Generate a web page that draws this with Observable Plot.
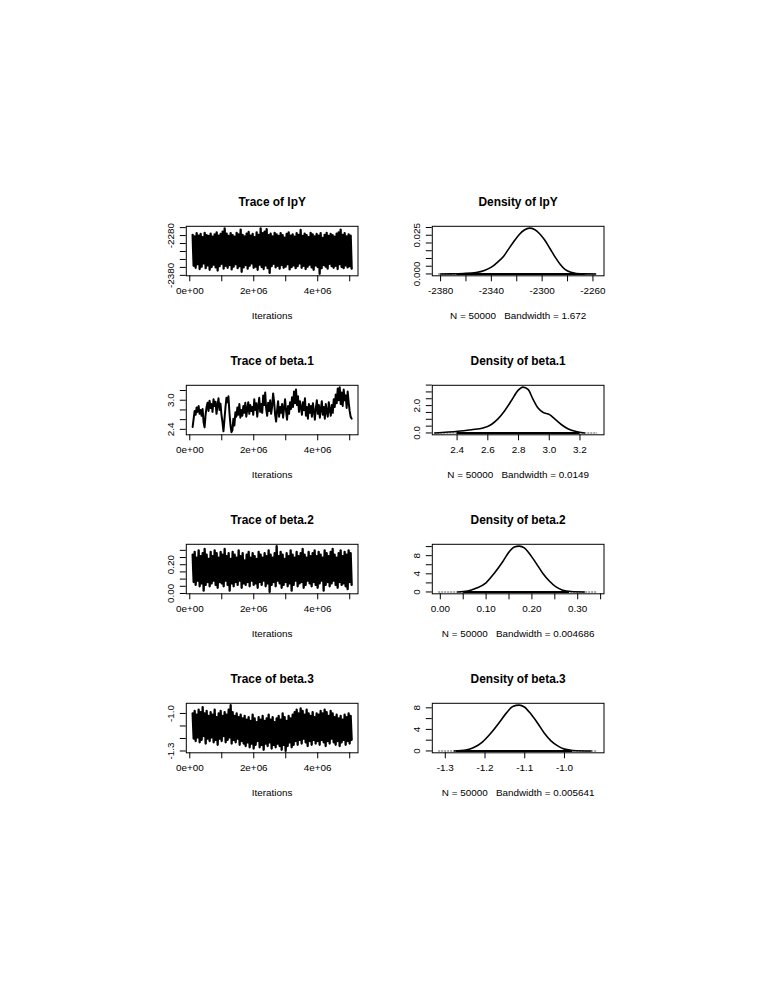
<!DOCTYPE html>
<html><head><meta charset="utf-8">
<script src="https://cdn.jsdelivr.net/npm/d3@7"></script>
<script src="https://cdn.jsdelivr.net/npm/@observablehq/plot@0.6"></script>
<style>
html,body{margin:0;padding:0;background:#fff;}
#page{position:relative;width:765px;height:990px;background:#fff;overflow:hidden;}
#page svg{position:absolute;}
#page svg text{white-space:pre;}
</style></head>
<body><div id="page"></div>
<script>
// ---------------- data ----------------
const traceIter = [90000, 5060000];               // first / last iteration
const traceXTicks = [0, 1e6, 2e6, 3e6, 4e6, 5e6];
const traceXLabelAt = [0, 2e6, 4e6];
const traceXLabelText = ["0e+00", "2e+06", "4e+06"];

// lpY trace: upper / lower envelope of the (dense) chain
const lpYUpper = [-2278,-2282,-2274,-2280,-2276,-2284,-2273,-2279,-2281,-2275,
-2283,-2277,-2272,-2280,-2276,-2270,-2262,-2275,-2281,-2274,
-2279,-2283,-2273,-2277,-2265,-2278,-2282,-2275,-2271,-2280,
-2276,-2284,-2272,-2278,-2262,-2274,-2270,-2264,-2279,-2275,
-2282,-2273,-2277,-2281,-2274,-2279,-2285,-2276,-2272,-2280,
-2277,-2283,-2274,-2278,-2266,-2281,-2275,-2279,-2284,-2273,
-2277,-2282,-2276,-2280,-2274,-2286,-2278,-2273,-2281,-2276,
-2279,-2283,-2275,-2272,-2265,-2278,-2274,-2282,-2277,-2280];
const lpYLower = [-2356,-2361,-2352,-2364,-2358,-2350,-2362,-2355,-2366,-2359,
-2353,-2360,-2368,-2357,-2351,-2363,-2356,-2361,-2354,-2365,
-2358,-2352,-2362,-2357,-2371,-2360,-2354,-2363,-2356,-2350,
-2361,-2358,-2366,-2353,-2359,-2364,-2355,-2362,-2374,-2357,
-2351,-2360,-2356,-2363,-2354,-2361,-2358,-2352,-2365,-2359,
-2355,-2362,-2357,-2350,-2361,-2356,-2364,-2358,-2353,-2360,
-2366,-2355,-2359,-2376,-2362,-2354,-2358,-2363,-2351,-2357,
-2361,-2356,-2364,-2352,-2359,-2362,-2355,-2360,-2357,-2363];
const lpYDataRange = [-2376.5, -2261.3];
const lpYTraceYTicks = [-2380, -2360, -2340, -2320, -2300, -2280, -2260];
const lpYTraceYLabelAt = [-2380, -2280];
const lpYTraceYLabelText = ["-2380", "-2280"];
const lpYDensX = [-2380,-2372,-2362,-2352,-2345,-2340,-2335,-2330,-2327,-2322,-2318,-2314,-2310,-2306,-2302,-2298,-2294,-2290,-2286,-2282,-2278,-2273,-2266,-2258];
const lpYDensY = [0,0.00006,0.0003,0.0009,0.0024,0.0044,0.0077,0.0118,0.0154,0.0213,0.0255,0.0284,0.0296,0.0287,0.0260,0.0219,0.0166,0.0112,0.0065,0.0030,0.0012,0.0003,0.00006,0];
const lpYDensRange = [-2381.5, -2256.3];
const lpYDensMax = 0.0296;
const lpYDensXTicks = [-2380, -2360, -2340, -2320, -2300, -2280, -2260];
const lpYDensXLabelAt = [-2380, -2340, -2300, -2260];
const lpYDensXLabelText = ["-2380", "-2340", "-2300", "-2260"];
const lpYDensYTicks = [0, 0.005, 0.010, 0.015, 0.020, 0.025, 0.030];
const lpYDensYLabelAt = [0, 0.025];
const lpYDensYLabelText = ["0.000", "0.025"];
const lpYRugGrey = [-2381.5, -2256.3];
const lpYRugBlack = [-2367, -2266];
const lpYBandwidth = "1.672";

// beta.1 trace (single wandering chain)
const beta1Trace = [2.45,2.62,2.78,2.70,2.85,2.76,2.88,2.72,2.80,2.68,
2.82,2.55,2.44,2.70,2.86,2.95,2.78,2.99,2.84,2.92,
2.76,3.02,2.88,2.97,2.72,2.90,3.04,2.80,2.93,2.70,
2.55,2.36,2.60,2.85,3.05,2.96,3.08,2.75,2.50,2.34,
2.38,2.62,2.48,2.75,2.66,2.85,2.70,2.92,2.64,2.80,
2.68,2.88,2.74,2.95,2.66,2.82,2.96,2.72,2.90,2.78,
2.86,2.70,3.02,2.80,2.94,2.66,2.88,3.05,2.76,2.92,
2.74,3.10,2.90,3.16,2.82,2.68,2.95,2.78,3.00,2.72,
2.88,3.14,2.96,2.70,2.56,2.80,2.98,2.66,2.86,2.74,
2.92,2.64,2.84,3.02,2.78,2.60,2.88,2.72,2.96,2.82,
3.06,2.86,3.18,2.94,3.22,2.90,3.08,2.76,2.98,2.84,
2.70,2.96,2.80,3.04,2.68,2.86,2.62,2.92,2.74,2.88,
2.66,2.94,2.78,2.60,2.84,3.00,2.72,2.90,2.64,2.82,
2.98,2.70,2.86,2.62,2.92,2.76,2.66,2.96,2.80,2.68,
2.90,2.74,3.02,2.86,3.12,2.94,3.24,3.00,3.27,2.92,
3.16,2.88,3.22,3.00,3.10,2.84,3.18,2.96,2.78,2.66,
2.62];
const beta1DataRange = [2.325, 3.27];
const beta1TraceYTicks = [2.4, 2.6, 2.8, 3.0, 3.2];
const beta1TraceYLabelAt = [2.4, 3.0];
const beta1TraceYLabelText = ["2.4", "3.0"];
const beta1DensX = [2.255,2.406,2.493,2.569,2.623,2.666,2.710,2.753,2.797,2.829,2.862,2.894,2.927,2.959,3.002,3.035,3.078,3.121,3.175,3.229];
const beta1DensY = [0.00,0.12,0.24,0.36,0.62,1.03,1.63,2.35,3.11,3.35,3.18,2.47,1.82,1.51,1.34,1.03,0.62,0.31,0.10,0.00];
const beta1DensRange = [2.28, 3.315];
const beta1DensMax = 3.35;
const beta1DensXTicks = [2.4, 2.6, 2.8, 3.0, 3.2];
const beta1DensXLabelAt = [2.4, 2.6, 2.8, 3.0, 3.2];
const beta1DensXLabelText = ["2.4", "2.6", "2.8", "3.0", "3.2"];
const beta1DensYTicks = [0, 0.5, 1, 1.5, 2, 2.5, 3, 3.5];
const beta1DensYLabelAt = [0, 2];
const beta1DensYLabelText = ["0.0", "2.0"];
const beta1RugGrey = [2.255, 3.315];
const beta1RugBlack = [2.40, 3.20];
const beta1Bandwidth = "0.0149";

// beta.2 trace envelope
const beta2Upper = [0.27,0.29,0.25,0.30,0.26,0.28,0.31,0.27,0.24,0.29,
0.26,0.30,0.28,0.25,0.29,0.27,0.31,0.26,0.28,0.24,
0.29,0.27,0.25,0.30,0.26,0.28,0.23,0.27,0.29,0.25,
0.28,0.26,0.24,0.29,0.27,0.25,0.28,0.26,0.30,0.27,
0.25,0.28,0.33,0.26,0.29,0.27,0.24,0.28,0.26,0.30,
0.27,0.25,0.29,0.26,0.28,0.31,0.27,0.25,0.29,0.26,
0.28,0.30,0.26,0.29,0.27,0.25,0.30,0.28,0.26,0.29,
0.31,0.27,0.25,0.28,0.30,0.26,0.29,0.27,0.30,0.28];
const beta2Lower = [0.08,0.06,0.09,0.05,0.07,0.02,0.06,0.08,0.05,0.07,
0.09,0.06,0.04,0.08,0.07,0.05,0.09,0.06,0.02,0.07,
0.05,0.08,0.06,0.09,0.04,0.07,0.06,0.08,0.05,0.09,
0.06,0.07,0.04,0.08,0.06,0.09,0.05,0.07,0.011,0.06,
0.08,0.05,0.09,0.07,0.04,0.06,0.08,0.05,0.07,0.02,
0.06,0.09,0.05,0.07,0.08,0.04,0.06,0.09,0.07,0.05,
0.08,0.06,0.04,0.07,0.09,0.02,0.06,0.08,0.05,0.07,
0.09,0.06,0.04,0.08,0.06,0.07,0.05,0.03,0.08,0.06];
const beta2DataRange = [0.0105, 0.3294];
const beta2TraceYTicks = [0, 0.05, 0.10, 0.15, 0.20, 0.25, 0.30];
const beta2TraceYLabelAt = [0, 0.20];
const beta2TraceYLabelText = ["0.00", "0.20"];
const beta2DensX = [0.038,0.0598,0.078,0.0998,0.1179,0.1362,0.1507,0.1616,0.1725,0.1834,0.1943,0.209,0.2236,0.238,0.2526,0.2672,0.2854,0.3144];
const beta2DensY = [0,0.20,0.81,2.02,4.14,6.67,8.89,9.90,10.10,9.70,8.48,6.36,4.14,2.42,1.11,0.40,0.10,0];
const beta2DensRange = [-0.0036, 0.3435];
const beta2DensMax = 10.1;
const beta2DensXTicks = [0, 0.05, 0.10, 0.15, 0.20, 0.25, 0.30, 0.35];
const beta2DensXLabelAt = [0, 0.10, 0.20, 0.30];
const beta2DensXLabelText = ["0.00", "0.10", "0.20", "0.30"];
const beta2DensYTicks = [0, 2, 4, 6, 8, 10];
const beta2DensYLabelAt = [0, 4, 8];
const beta2DensYLabelText = ["0", "4", "8"];
const beta2RugGrey = [-0.0036, 0.3435];
const beta2RugBlack = [0.051, 0.282];
const beta2Bandwidth = "0.004686";

// beta.3 trace envelope
const beta3Upper = [-1.00,-0.98,-1.01,-0.97,-0.99,-0.95,-1.00,-0.98,
-1.02,-0.99,-1.01,-0.97,-1.03,-1.00,-0.98,-1.02,-0.99,-1.01,-0.97,-0.934,
-0.99,-1.02,-1.00,-1.03,-1.01,-1.04,
-1.02,-1.05,-1.03,-1.06,-1.01,-1.04,-1.07,-1.03,-1.05,-1.02,-1.06,-1.04,-1.01,-1.05,-1.03,-1.07,-1.04,-1.02,-1.05,-1.00,-1.03,-1.06,-1.02,-1.04,-1.01,
-0.99,-0.97,-1.00,-0.96,-0.98,-1.01,-0.97,-1.00,-1.02,-0.99,-1.03,-1.00,
-1.01,-0.98,-1.00,-0.97,-0.99,-1.02,-0.98,-1.00,
-1.03,-1.01,-1.04,-1.02,-1.05,-1.01,-1.03,-1.00,-1.02];
const beta3Lower = [-1.20,-1.22,-1.19,-1.23,-1.21,-1.18,-1.24,-1.20,-1.22,-1.19,-1.23,-1.21,-1.25,-1.20,-1.22,-1.18,-1.23,-1.21,-1.19,-1.24,
-1.21,-1.23,-1.20,-1.25,-1.22,-1.24,
-1.26,-1.23,-1.27,-1.24,-1.28,-1.25,-1.22,-1.27,-1.25,-1.29,-1.24,-1.26,-1.23,-1.28,-1.25,-1.27,-1.24,-1.26,-1.29,-1.25,-1.299,-1.26,-1.23,-1.27,-1.25,
-1.22,-1.25,-1.21,-1.24,-1.20,-1.23,-1.26,-1.22,-1.25,-1.21,-1.24,-1.22,
-1.25,-1.21,-1.23,-1.26,-1.22,-1.24,-1.20,-1.23,
-1.25,-1.22,-1.26,-1.23,-1.21,-1.25,-1.22,-1.24,-1.21];
const beta3DataRange = [-1.2998, -0.9334];
const beta3TraceYTicks = [-1.3, -1.2, -1.1, -1.0];
const beta3TraceYLabelAt = [-1.3, -1.0];
const beta3TraceYLabelText = ["-1.3", "-1.0"];
const beta3DensX = [-1.277,-1.248,-1.227,-1.206,-1.185,-1.164,-1.147,-1.130,-1.114,-1.101,-1.084,-1.067,-1.051,-1.034,-1.017,-1.000,-0.979,-0.933];
const beta3DensY = [0,0.17,0.68,1.70,3.32,5.27,6.97,8.25,8.50,8.16,6.80,5.10,3.32,1.87,0.94,0.34,0.09,0];
const beta3DensRange = [-1.3167, -0.9165];
const beta3DensMax = 8.5;
const beta3DensXTicks = [-1.3, -1.2, -1.1, -1.0];
const beta3DensXLabelAt = [-1.3, -1.2, -1.1, -1.0];
const beta3DensXLabelText = ["-1.3", "-1.2", "-1.1", "-1.0"];
const beta3DensYTicks = [0, 2, 4, 6, 8];
const beta3DensYLabelAt = [0, 4, 8];
const beta3DensYLabelText = ["0", "4", "8"];
const beta3RugGrey = [-1.3167, -0.9165];
const beta3RugBlack = [-1.272, -0.979];
const beta3Bandwidth = "0.005641";

const paramNames = ["lpY", "beta.1", "beta.2", "beta.3"];
const sampleSize = 50000;

// ---------------- layout ----------------
const FONT = "'Liberation Sans', Arial, Helvetica, sans-serif";
const FIG = {x0: 137, y0: 177.2, w: 245.5, h: 159};
const MAR = {left: 48.8, right: 25.0, top: 48.8, bottom: 60.7};
const page = document.getElementById("page");

function padRange([lo, hi]) { const t = 0.04 * (hi - lo); return [lo - t, hi + t]; }

function axisMarks(a) {
  return [
    Plot.axisX({ticks: a.xTicks, tickSize: 6, tickFormat: () => "", label: null, stroke: "black", strokeWidth: 1}),
    Plot.axisY({ticks: a.yTicks, tickSize: 6, tickFormat: () => "", label: null, stroke: "black", strokeWidth: 1}),
    Plot.text(a.xLabelAt, {x: d => d, text: (d, i) => a.xLabelText[i], frameAnchor: "bottom", dy: 15.5,
      lineAnchor: "middle", textAnchor: "middle", fontSize: 9.9, fill: "black"}),
    Plot.text(a.yLabelAt, {y: d => d, text: (d, i) => a.yLabelText[i], frameAnchor: "left", dx: -15.5,
      rotate: -90, lineAnchor: "middle", textAnchor: "middle", fontSize: 9.9, fill: "black"}),
    Plot.text([a.title], {text: d => d, frameAnchor: "top", dy: -24.3, lineAnchor: "middle",
      fontWeight: "bold", fontSize: 11.9, fill: "black"}),
    Plot.text([a.xlab], {text: d => d, frameAnchor: "bottom", dy: 40.3, lineAnchor: "middle",
      fontSize: 9.9, fill: "black"}),
    Plot.frame({stroke: "black", strokeWidth: 1})
  ];
}

function place(row, col, xDomain, yDomain, marks) {
  const svg = Plot.plot({
    width: FIG.w, height: FIG.h,
    marginLeft: MAR.left, marginRight: MAR.right, marginTop: MAR.top, marginBottom: MAR.bottom,
    x: {domain: xDomain},
    y: {domain: yDomain},
    style: {fontFamily: FONT, background: "transparent", overflow: "visible", color: "black"},
    marks
  });
  svg.style.left = (FIG.x0 + col * FIG.w) + "px";
  svg.style.top = (FIG.y0 + row * FIG.h) + "px";
  page.appendChild(svg);
}

function zigzag(upper, lower) {
  const n = upper.length, step = (traceIter[1] - traceIter[0]) / (n - 0.5), pts = [];
  for (let i = 0; i < n; i++) {
    pts.push({x: traceIter[0] + i * step, y: upper[i]});
    pts.push({x: traceIter[0] + (i + 0.5) * step, y: lower[i]});
  }
  return pts;
}
function series(vals) {
  const n = vals.length;
  return vals.map((v, i) => ({x: traceIter[0] + i * (traceIter[1] - traceIter[0]) / (n - 1), y: v}));
}

function tracePanel(row, name, pts, dataRange, yTicks, yLabelAt, yLabelText, sw) {
  place(row, 0, padRange(traceIter), padRange(dataRange), [
    Plot.line(pts, {x: "x", y: "y", stroke: "black", strokeWidth: sw, strokeLinejoin: "round"}),
    ...axisMarks({title: "Trace of " + name, xlab: "Iterations",
      xTicks: traceXTicks, xLabelAt: traceXLabelAt, xLabelText: traceXLabelText,
      yTicks, yLabelAt, yLabelText})
  ]);
}

function densityPanel(row, name, d) {
  const pts = d.x.map((v, i) => ({x: v, y: d.y[i]}));
  place(row, 1, padRange(d.range), padRange([0, d.max]), [
    Plot.ruleY([0], {x1: d.rugGrey[0], x2: d.rugGrey[1], stroke: "#8c8c8c", strokeWidth: 1.6, strokeDasharray: "2,1"}),
    Plot.line(pts, {x: "x", y: "y", stroke: "black", strokeWidth: 1.6, curve: "monotone-x"}),
    Plot.ruleY([0], {x1: d.rugBlack[0], x2: d.rugBlack[1], stroke: "black", strokeWidth: 2}),
    ...axisMarks({title: "Density of " + name,
      xlab: "N = " + sampleSize + "   Bandwidth = " + d.bw,
      xTicks: d.xTicks, xLabelAt: d.xLabelAt, xLabelText: d.xLabelText,
      yTicks: d.yTicks, yLabelAt: d.yLabelAt, yLabelText: d.yLabelText})
  ]);
}

// row 0: lpY
tracePanel(0, paramNames[0], zigzag(lpYUpper, lpYLower), lpYDataRange, lpYTraceYTicks, lpYTraceYLabelAt, lpYTraceYLabelText, 2.3);
densityPanel(0, paramNames[0], {x: lpYDensX, y: lpYDensY, range: lpYDensRange, max: lpYDensMax,
  xTicks: lpYDensXTicks, xLabelAt: lpYDensXLabelAt, xLabelText: lpYDensXLabelText,
  yTicks: lpYDensYTicks, yLabelAt: lpYDensYLabelAt, yLabelText: lpYDensYLabelText,
  rugGrey: lpYRugGrey, rugBlack: lpYRugBlack, bw: lpYBandwidth});

// row 1: beta.1
tracePanel(1, paramNames[1], series(beta1Trace), beta1DataRange, beta1TraceYTicks, beta1TraceYLabelAt, beta1TraceYLabelText, 2.0);
densityPanel(1, paramNames[1], {x: beta1DensX, y: beta1DensY, range: beta1DensRange, max: beta1DensMax,
  xTicks: beta1DensXTicks, xLabelAt: beta1DensXLabelAt, xLabelText: beta1DensXLabelText,
  yTicks: beta1DensYTicks, yLabelAt: beta1DensYLabelAt, yLabelText: beta1DensYLabelText,
  rugGrey: beta1RugGrey, rugBlack: beta1RugBlack, bw: beta1Bandwidth});

// row 2: beta.2
tracePanel(2, paramNames[2], zigzag(beta2Upper, beta2Lower), beta2DataRange, beta2TraceYTicks, beta2TraceYLabelAt, beta2TraceYLabelText, 2.3);
densityPanel(2, paramNames[2], {x: beta2DensX, y: beta2DensY, range: beta2DensRange, max: beta2DensMax,
  xTicks: beta2DensXTicks, xLabelAt: beta2DensXLabelAt, xLabelText: beta2DensXLabelText,
  yTicks: beta2DensYTicks, yLabelAt: beta2DensYLabelAt, yLabelText: beta2DensYLabelText,
  rugGrey: beta2RugGrey, rugBlack: beta2RugBlack, bw: beta2Bandwidth});

// row 3: beta.3
tracePanel(3, paramNames[3], zigzag(beta3Upper, beta3Lower), beta3DataRange, beta3TraceYTicks, beta3TraceYLabelAt, beta3TraceYLabelText, 2.3);
densityPanel(3, paramNames[3], {x: beta3DensX, y: beta3DensY, range: beta3DensRange, max: beta3DensMax,
  xTicks: beta3DensXTicks, xLabelAt: beta3DensXLabelAt, xLabelText: beta3DensXLabelText,
  yTicks: beta3DensYTicks, yLabelAt: beta3DensYLabelAt, yLabelText: beta3DensYLabelText,
  rugGrey: beta3RugGrey, rugBlack: beta3RugBlack, bw: beta3Bandwidth});
</script>
</body></html>
